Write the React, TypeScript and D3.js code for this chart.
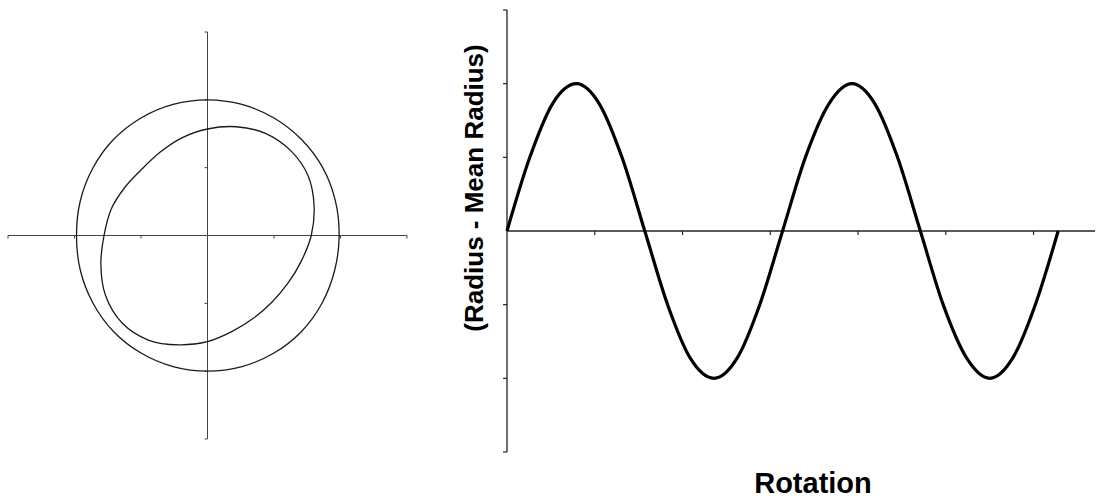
import React from 'react';
import * as d3 from 'd3';

// polar plot (left): angle in degrees, radius in axis units
const polarAngles = [0, 15, 30, 45, 60, 75, 90, 105, 120, 135, 150, 165, 180, 195, 210, 225, 240, 255, 270, 285, 300, 315, 330, 345];
const outerRadius = [1.98, 1.99, 2.0, 2.0, 2.0, 2.0, 2.0, 2.0, 2.0, 2.0, 1.99, 1.98, 1.97, 1.98, 1.99, 2.0, 2.0, 2.0, 2.0, 2.0, 2.0, 2.0, 1.99, 1.98];
const innerRadius = [1.56, 1.66, 1.75, 1.77, 1.74, 1.66, 1.57, 1.49, 1.42, 1.39, 1.43, 1.5, 1.556, 1.66, 1.77, 1.82, 1.78, 1.67, 1.565, 1.46, 1.4, 1.38, 1.4, 1.46];
const polarTicks = [-3, -2, -1, 1, 2, 3];

// unrolled plot (right): rotation in radians vs radius - mean radius
const rotation = [0, 0.26, 0.52, 0.79, 1.05, 1.31, 1.57, 1.83, 2.09, 2.36, 2.62, 2.88, 3.14, 3.4, 3.67, 3.93, 4.19, 4.45, 4.71, 4.97, 5.24, 5.5, 5.76, 6.02, 6.28];
const deviation = [0, 1.0, 1.73, 2.0, 1.73, 1.0, 0, -1.0, -1.73, -2.0, -1.73, -1.0, 0, 1.0, 1.73, 2.0, 1.73, 1.0, 0, -1.0, -1.73, -2.0, -1.73, -1.0, 0];
const xTicks = [1, 2, 3, 4, 5, 6];
const yTicks = [-3, -2, -1, 1, 2, 3];

const W = 1117;
const H = 500;

const App = () => {
  // left chart scales
  const lx = d3.scaleLinear().domain([-3, 3]).range([8, 407]);
  const ly = d3.scaleLinear().domain([-3, 3]).range([439, 32]);

  const polarLine = d3.line<[number, number]>()
    .x(d => lx(d[1] * Math.cos((d[0] * Math.PI) / 180)))
    .y(d => ly(d[1] * Math.sin((d[0] * Math.PI) / 180)))
    .curve(d3.curveCatmullRomClosed);

  const outerPath = polarLine(polarAngles.map((a, i) => [a, outerRadius[i]]));
  const innerPath = polarLine(polarAngles.map((a, i) => [a, innerRadius[i]]));

  // right chart scales
  const rx = d3.scaleLinear().domain([0, 6.7]).range([507, 1095]);
  const ry = d3.scaleLinear().domain([-3, 3]).range([452, 10]);

  const sineLine = d3.line<number>()
    .x((_, i) => rx(rotation[i]))
    .y(d => ry(d))
    .curve(d3.curveMonotoneX);

  return (
    <div style={{ position: 'absolute', left: 0, top: 0 }}>
      <svg width={W} height={H} viewBox={`0 0 ${W} ${H}`} style={{ display: 'block', background: '#fff' }}>
        {/* Left: polar trace */}
        <g>
          <line x1={lx(-3)} x2={lx(3)} y1={ly(0)} y2={ly(0)} stroke="#444" strokeWidth={1} />
          <line x1={lx(0)} x2={lx(0)} y1={ly(-3)} y2={ly(3)} stroke="#444" strokeWidth={1} />
          {polarTicks.map(t => (
            <line key={`pv-${t}`} x1={lx(0) - 3} x2={lx(0)} y1={ly(t)} y2={ly(t)} stroke="#444" strokeWidth={1} />
          ))}
          {polarTicks.map(t => (
            <line key={`ph-${t}`} x1={lx(t)} x2={lx(t)} y1={ly(0)} y2={ly(0) + 3} stroke="#444" strokeWidth={1} />
          ))}
          <path d={outerPath || ''} fill="none" stroke="#1a1a1a" strokeWidth={1.3} />
          <path d={innerPath || ''} fill="none" stroke="#1a1a1a" strokeWidth={1.3} />
        </g>

        {/* Right: deviation vs rotation */}
        <g>
          <line x1={rx(0)} x2={rx(6.7)} y1={ry(0)} y2={ry(0)} stroke="#222" strokeWidth={1.3} />
          <line x1={rx(0)} x2={rx(0)} y1={ry(-3)} y2={ry(3)} stroke="#222" strokeWidth={1.3} />
          {yTicks.map(t => (
            <line key={`ry-${t}`} x1={rx(0) - 4} x2={rx(0)} y1={ry(t)} y2={ry(t)} stroke="#222" strokeWidth={1.2} />
          ))}
          {xTicks.map(t => (
            <line key={`rx-${t}`} x1={rx(t)} x2={rx(t)} y1={ry(0)} y2={ry(0) + 4} stroke="#222" strokeWidth={1.2} />
          ))}
          <path d={sineLine(deviation) || ''} fill="none" stroke="#000" strokeWidth={3.2} strokeLinejoin="round" />

          <text
            transform={`translate(483, 188) rotate(-90)`}
            textAnchor="middle"
            style={{ fontFamily: 'Liberation Sans, Arial, sans-serif', fontSize: '26px', fontWeight: 'bold' }}
            fill="#000"
          >
            (Radius - Mean Radius)
          </text>
          <text
            x={813}
            y={493}
            textAnchor="middle"
            style={{ fontFamily: 'Liberation Sans, Arial, sans-serif', fontSize: '29px', fontWeight: 'bold' }}
            fill="#000"
          >
            Rotation
          </text>
        </g>
      </svg>
    </div>
  );
};

export default App;
